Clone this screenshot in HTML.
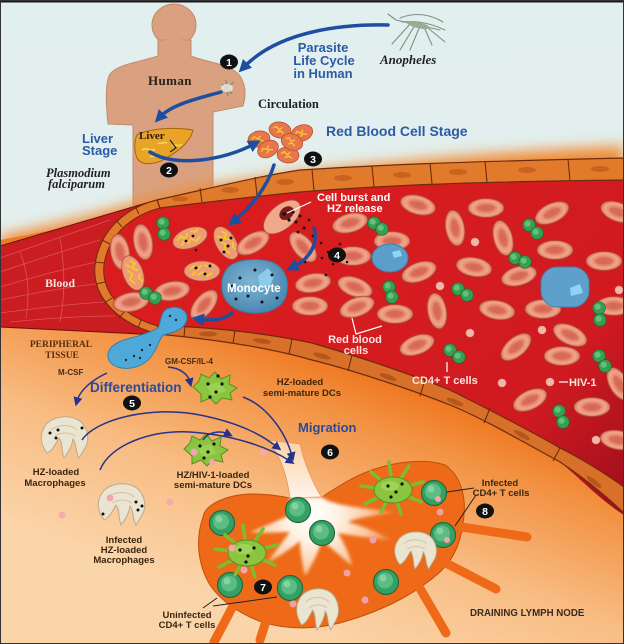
<!DOCTYPE html>
<html><head><meta charset="utf-8">
<style>
html,body{margin:0;padding:0;background:#fff}
svg{display:block}
text{font-family:"Liberation Sans",sans-serif;font-weight:bold}
.se{font-family:"Liberation Serif",serif}
</style></head><body>
<svg width="624" height="644" viewBox="0 0 624 644" xmlns="http://www.w3.org/2000/svg">
<defs>
<filter id="b8" x="-20%" y="-80%" width="140%" height="260%"><feGaussianBlur stdDeviation="7"/></filter>
<filter id="b2" x="-20%" y="-20%" width="140%" height="140%"><feGaussianBlur stdDeviation="1.5"/></filter>
<linearGradient id="sky" x1="0" y1="0" x2="0" y2="1">
<stop offset="0" stop-color="#e1efef"/><stop offset="1" stop-color="#e8f0ea"/></linearGradient>
<linearGradient id="tis" gradientUnits="userSpaceOnUse" x1="390" y1="360" x2="290" y2="630">
<stop offset="0" stop-color="#ed6c12"/><stop offset="0.22" stop-color="#f29040"/><stop offset="0.6" stop-color="#f8bd84"/><stop offset="1" stop-color="#fbd5aa"/></linearGradient>
<linearGradient id="lum" gradientUnits="userSpaceOnUse" x1="300" y1="220" x2="620" y2="500">
<stop offset="0" stop-color="#d91d1f"/><stop offset="0.7" stop-color="#cf1a20"/><stop offset="1" stop-color="#a30f1e"/></linearGradient>
<radialGradient id="rg"><stop offset="0" stop-color="#d86c58"/><stop offset="0.45" stop-color="#e4826a"/><stop offset="0.76" stop-color="#f2a68c"/><stop offset="1" stop-color="#d47860"/></radialGradient>
<radialGradient id="wc" gradientUnits="userSpaceOnUse" cx="312" cy="515" r="75"><stop offset="0" stop-color="#ffffff"/><stop offset="0.35" stop-color="#fff2e6"/><stop offset="0.75" stop-color="#fbc9a0"/><stop offset="1" stop-color="#f59a5a"/></radialGradient>
<linearGradient id="stalk" x1="0" y1="0" x2="0" y2="1"><stop offset="0" stop-color="#fbd2a8"/><stop offset="1" stop-color="#fff4ea"/></linearGradient>
<radialGradient id="mono" cx="0.45" cy="0.4" r="0.6"><stop offset="0" stop-color="#7fb6d4"/><stop offset="1" stop-color="#4b88b0"/></radialGradient>
<marker id="ah" viewBox="0 0 10 10" refX="4" refY="5" markerWidth="3.6" markerHeight="3.6" orient="auto"><path d="M0,0 L10,5 L0,10 Z" fill="#1d4e9f"/></marker>
<marker id="an" viewBox="0 0 10 10" refX="4" refY="5" markerWidth="6" markerHeight="6" orient="auto"><path d="M0,0 L10,5 L0,10 Z" fill="#25338a"/></marker>
<g id="r"><ellipse rx="18" ry="9.5" fill="url(#rg)" stroke="#b04a3a" stroke-width="0.8"/><ellipse rx="9" ry="3.5" fill="#d06250" opacity="0.55"/></g>
<g id="i"><ellipse rx="18" ry="10" fill="#ee9c76" stroke="#b04a3a" stroke-width="0.8"/><path d="M-12,-2 l4,-3 l3,4 l4,-4 M-4,4 l5,-3 l4,4 l5,-3 M3,-6 l4,2 l4,-2 M-10,4 l3,-3" stroke="#f2cf1c" stroke-width="1.7" fill="none" stroke-linecap="round"/></g>
<g id="c"><ellipse rx="11" ry="8" fill="#e8764c" stroke="#b24a2c" stroke-width="0.7"/><path d="M-7,-1 l3,-2 l3,3 l3,-3 M-3,3 l4,-2 l3,2" stroke="#f4cf2a" stroke-width="1.3" fill="none"/></g>
<g id="g"><circle r="6.3" fill="#35a052" stroke="#1d6b33" stroke-width="0.7"/><circle cx="-1.3" cy="-1.3" r="3" fill="#70c886" opacity="0.8"/></g>
<g id="h"><circle r="4" fill="#f2b7ab" stroke="#e49a8c" stroke-width="0.6"/></g>
<g id="t"><circle r="12.5" fill="#34a064" stroke="#24683c" stroke-width="1.2"/><circle cx="-1" cy="-1.5" r="8" fill="#5cbc84"/><circle cx="-3" cy="-4" r="3.5" fill="#9ad8b0" opacity="0.7"/></g>
<g id="d"><path d="M-21,-1 L-15,-7 L-13,-14 L-5,-10 L1,-16 L7,-9 L16,-13 L15,-4 L23,0 L16,5 L18,12 L8,10 L2,16 L-4,10 L-13,14 L-13,6 Z" fill="#8bc53f" stroke="#5a8f22" stroke-width="1"/><path d="M-8,-3 L6,-6 L12,3 L-2,8 Z" fill="#a2d65a" opacity="0.7"/></g>
<g id="D"><g stroke="#7cbd30" stroke-width="3.5" stroke-linecap="round"><line x1="0" y1="0" x2="-32" y2="-4"/><line x1="0" y1="0" x2="-22" y2="-18"/><line x1="0" y1="0" x2="-4" y2="-28"/><line x1="0" y1="0" x2="16" y2="-24"/><line x1="0" y1="0" x2="30" y2="-8"/><line x1="0" y1="0" x2="28" y2="12"/><line x1="0" y1="0" x2="8" y2="24"/><line x1="0" y1="0" x2="-12" y2="22"/><line x1="0" y1="0" x2="-28" y2="14"/></g><ellipse rx="19" ry="13" fill="#8bc53f" stroke="#5a8f22"/><ellipse cx="-3" cy="-4" rx="9" ry="5" fill="#a6d860" opacity="0.7"/></g>
<g id="m"><path d="M-21,-10 C-16,-22 6,-25 16,-16 C23,-9 25,2 20,10 L14,20 C10,13 12,6 8,1 C7,9 3,15 -1,20 C-4,12 -2,5 -6,0 C-10,7 -13,13 -18,15 C-25,6 -25,-4 -21,-10 Z" fill="#ebe4d0" stroke="#b8ab8e" stroke-width="1"/><path d="M-14,-8 C-6,-14 6,-14 12,-8 M-10,-2 C-4,-6 4,-6 10,-2" stroke="#cfc3a6" fill="none"/></g>
<g id="n"><ellipse rx="9" ry="7.5" fill="#111"/></g>
</defs>

<!-- sky -->
<rect x="0" y="0" width="624" height="644" fill="url(#sky)"/>

<!-- human -->
<g fill="#d9a17f" stroke="#c48a68" stroke-width="1">
<ellipse cx="174" cy="25" rx="22" ry="21"/>
<path d="M158,40 L158,56 C140,62 118,64 110,74 C105,82 106,105 108,124 L133,125 L133,205 L213,205 L213,112 L243,106 C246,96 246,85 240,76 C232,64 205,62 191,56 L191,40 Z"/>
</g>
<ellipse cx="174" cy="44" rx="14" ry="5" fill="#d9a17f"/>
<g stroke="#6f8470" stroke-width="1" fill="none"><path d="M218,94 L234,82 M222,84 L232,94 M226,80 L228,96"/></g>
<ellipse cx="227" cy="88" rx="6" ry="4" fill="#e8ecea" opacity="0.8"/>

<!-- liver -->
<path d="M137,135 C150,128 175,127 193,130 C191,140 181,150 166,158 C156,165 141,166 137,158 C134,150 134,141 137,135 Z" fill="#e9a326" stroke="#a8640e" stroke-width="1"/>
<path d="M142,150 c5,-4 8,3 13,-1 M150,157 c4,-3 7,2 12,-2 M172,146 c4,-3 6,2 10,-2 M158,143 c3,2 6,-2 9,0" stroke="#f8dc60" stroke-width="1.5" fill="none"/>
<path d="M170,140 L176,148 L170,152" stroke="#222" stroke-width="1.2" fill="none"/>

<!-- mosquito Anopheles -->
<g stroke="#7f917c" stroke-width="1.1" fill="none" stroke-linecap="round">
<path d="M396,20 L440,30"/><path d="M400,18 C415,12 430,14 443,22"/><path d="M402,22 C418,20 432,24 445,30"/>
<path d="M410,24 L392,44 M415,25 L400,50 M420,26 L410,50 M424,27 L432,45 M428,28 L445,42 M396,20 L388,14"/>
</g>
<ellipse cx="418" cy="25" rx="12" ry="3" fill="#9aab96" transform="rotate(14 418 25)"/>

<!-- orange glow above vessel -->
<path d="M0,236 C80,220 140,200 200,187 C300,170 450,154 624,146 L624,215 L0,290 Z" fill="#f08a35" filter="url(#b8)"/>
<path d="M0,240 C80,226 140,208 200,196 C300,180 450,170 624,166 L624,230 L0,290 Z" fill="#ee7a22"/>

<!-- circulation cluster -->
<use href="#c" transform="translate(259,139) rotate(-10)"/>
<use href="#c" transform="translate(280,130) rotate(10)"/>
<use href="#c" transform="translate(302,133) rotate(-20)"/>
<use href="#c" transform="translate(288,155) rotate(5)"/>
<use href="#c" transform="translate(268,149) rotate(-30)"/>
<use href="#c" transform="translate(292,142) rotate(20)"/>

<!-- tissue -->
<path d="M0,324 L157,334 C200,338 260,345 312,360 C360,372 420,393 450,405 C480,417 520,440 560,462 C590,482 610,500 624,513 L624,644 L0,644 Z" fill="url(#tis)"/>

<!-- left tube outer surface -->
<path d="M0,246 L160,199 L160,335 L0,327 Z" fill="#c91d22" stroke="#6a1010" stroke-width="1"/>
<g stroke="#e86a6a" stroke-width="0.8" fill="none" opacity="0.7">
<path d="M0,258 C30,248 70,234 110,220"/><path d="M0,272 C30,262 65,250 100,240"/><path d="M0,287 C30,278 60,270 96,262"/>
<path d="M0,300 C30,294 60,288 96,284"/><path d="M0,313 C40,308 70,304 104,302"/><path d="M10,322 C50,318 80,316 115,316"/>
<path d="M20,252 C28,272 30,292 26,318"/><path d="M60,238 C64,262 66,292 60,322"/>
</g>

<!-- vessel lumen -->
<path d="M157,200 C220,186 260,176 300,170 C380,165 450,162 624,158 L624,515 C600,500 580,478 560,462 C520,440 480,417 450,405 C420,393 360,372 312,360 C260,345 200,338 157,334 C115,322 92,295 95,265 C100,230 125,208 157,200 Z" fill="url(#lum)"/>

<!-- ring endothelium (cut end) -->
<path d="M157,200 C125,208 100,230 95,265 C92,295 115,322 157,334 L158,326 C122,316 101,292 104,265 C108,236 130,216 160,208 Z" fill="#e27a2c" stroke="#6d2c0c" stroke-width="1"/>
<g stroke="#6d2c0c" stroke-width="1"><line x1="135" y1="206" x2="139" y2="214"/><line x1="116" y1="220" x2="122" y2="227"/><line x1="102" y1="240" x2="110" y2="244"/><line x1="95" y1="262" x2="104" y2="263"/><line x1="96" y1="284" x2="105" y2="282"/><line x1="104" y1="303" x2="112" y2="298"/><line x1="119" y1="318" x2="125" y2="311"/><line x1="138" y1="328" x2="141" y2="320"/></g>

<!-- top wall endothelium -->
<path d="M157,200 C220,186 260,176 300,170 C380,165 450,162 624,158 L624,180 C450,182 380,186 300,192 C250,197 200,203 160,208 Z" fill="#e27a2c" stroke="#6d2c0c" stroke-width="1.2"/>
<g stroke="#6d2c0c" stroke-width="1.1"><line x1="200" y1="188" x2="202" y2="202"/><line x1="255" y1="177" x2="257" y2="195"/><line x1="312" y1="169" x2="314" y2="191"/><line x1="372" y1="166" x2="374" y2="187"/><line x1="430" y1="163" x2="432" y2="184"/><line x1="485" y1="161" x2="487" y2="182"/><line x1="568" y1="159" x2="570" y2="181"/></g>
<g fill="#c8621e"><ellipse cx="180" cy="199" rx="8" ry="2.5"/><ellipse cx="230" cy="190" rx="9" ry="3"/><ellipse cx="285" cy="182" rx="9" ry="3"/><ellipse cx="343" cy="178" rx="9" ry="3"/><ellipse cx="402" cy="175" rx="9" ry="3"/><ellipse cx="458" cy="172" rx="9" ry="3"/><ellipse cx="527" cy="170" rx="9" ry="3"/><ellipse cx="600" cy="169" rx="9" ry="3"/></g>

<!-- lower wall endothelium -->
<path d="M157,334 C200,338 260,345 312,360 C360,372 420,393 450,405 C480,417 520,440 560,462 C590,482 610,500 624,513 L624,487 C600,470 580,458 560,448 C520,425 480,405 450,390 C420,378 370,360 312,343 C260,332 200,326 158,326 Z" fill="#d9702a" stroke="#6d2c0c" stroke-width="1.2"/>
<g stroke="#6d2c0c" stroke-width="1.1"><line x1="185" y1="327" x2="184" y2="337"/><line x1="235" y1="331" x2="233" y2="343"/><line x1="292" y1="339" x2="289" y2="354"/><line x1="352" y1="355" x2="348" y2="371"/><line x1="425" y1="380" x2="420" y2="396"/><line x1="490" y1="408" x2="484" y2="423"/><line x1="560" y1="448" x2="553" y2="461"/></g>
<g fill="#b5561c"><ellipse cx="208" cy="334" rx="9" ry="2.5"/><ellipse cx="262" cy="341" rx="9" ry="2.5" transform="rotate(8 262 341)"/><ellipse cx="322" cy="356" rx="9" ry="2.5" transform="rotate(15 322 356)"/><ellipse cx="388" cy="377" rx="9" ry="2.5" transform="rotate(20 388 377)"/><ellipse cx="455" cy="402" rx="9" ry="2.5" transform="rotate(22 455 402)"/><ellipse cx="522" cy="435" rx="9" ry="2.5" transform="rotate(30 522 435)"/><ellipse cx="594" cy="482" rx="9" ry="2.5" transform="rotate(38 594 482)"/></g>

<!-- RBCs -->
<use href="#r" transform="translate(120,252) rotate(80)"/>
<use href="#r" transform="translate(143,242) rotate(80)"/>
<use href="#i" transform="translate(190,238) rotate(-20)"/>
<use href="#i" transform="translate(226,243) rotate(60)"/>
<use href="#r" transform="translate(253,243) rotate(-30)"/>
<use href="#r" transform="translate(303,247) rotate(50)"/>
<use href="#r" transform="translate(350,223) rotate(-15)"/>
<use href="#r" transform="translate(353,256) rotate(0)"/>
<use href="#r" transform="translate(392,241) rotate(0)"/>
<use href="#r" transform="translate(418,205) rotate(15)"/>
<use href="#r" transform="translate(419,272) rotate(-20)"/>
<use href="#i" transform="translate(133,273) rotate(70)"/>
<use href="#i" transform="translate(202,271) rotate(0)"/>
<use href="#r" transform="translate(172,291) rotate(-10)"/>
<use href="#r" transform="translate(131,302) rotate(-10)"/>
<use href="#r" transform="translate(204,305) rotate(-50)"/>
<use href="#r" transform="translate(313,283) rotate(-10)"/>
<use href="#r" transform="translate(355,287) rotate(20)"/>
<use href="#r" transform="translate(357,307) rotate(-20)"/>
<use href="#r" transform="translate(310,306) rotate(0)"/>
<use href="#r" transform="translate(395,314) rotate(0)"/>
<use href="#r" transform="translate(437,311) rotate(80)"/>
<use href="#r" transform="translate(417,345) rotate(-20)"/>
<use href="#r" transform="translate(455,228) rotate(80)"/>
<use href="#r" transform="translate(486,208) rotate(0)"/>
<use href="#r" transform="translate(474,267) rotate(10)"/>
<use href="#r" transform="translate(519,276) rotate(-15)"/>
<use href="#r" transform="translate(552,213) rotate(-25)"/>
<use href="#r" transform="translate(503,238) rotate(75)"/>
<use href="#r" transform="translate(555,250) rotate(0)"/>
<use href="#r" transform="translate(604,261) rotate(0)"/>
<use href="#r" transform="translate(618,212) rotate(20)"/>
<use href="#r" transform="translate(497,310) rotate(10)"/>
<use href="#r" transform="translate(543,309) rotate(0)"/>
<use href="#r" transform="translate(570,335) rotate(25)"/>
<use href="#r" transform="translate(614,306) rotate(0)"/>
<use href="#r" transform="translate(516,347) rotate(-40)"/>
<use href="#r" transform="translate(562,356) rotate(0)"/>
<use href="#r" transform="translate(530,400) rotate(-25)"/>
<use href="#r" transform="translate(592,407) rotate(0)"/>
<use href="#r" transform="translate(619,384) rotate(60)"/>
<use href="#r" transform="translate(618,440) rotate(10)"/>
<!-- burst cell -->
<g transform="translate(282,217) rotate(-40)"><ellipse rx="22" ry="12" fill="#f0a88a" stroke="#b5503f" stroke-width="0.8"/><ellipse cx="6" cy="0" rx="8" ry="6" fill="#7a1a1a"/></g>

<!-- hemozoin dots -->
<g fill="#111">
<circle cx="284" cy="214" r="1.6"/><circle cx="289" cy="220" r="1.6"/><circle cx="293" cy="212" r="1.6"/><circle cx="296" cy="222" r="1.6"/><circle cx="300" cy="216" r="1.5"/><circle cx="304" cy="228" r="1.5"/><circle cx="309" cy="220" r="1.4"/><circle cx="313" cy="236" r="1.4"/><circle cx="298" cy="232" r="1.4"/><circle cx="321" cy="243" r="1.3"/><circle cx="328" cy="252" r="1.3"/><circle cx="333" cy="264" r="1.3"/><circle cx="322" cy="258" r="1.3"/><circle cx="340" cy="244" r="1.3"/><circle cx="347" cy="262" r="1.3"/><circle cx="305" cy="262" r="1.3"/><circle cx="326" cy="275" r="1.3"/>
<circle cx="221" cy="240" r="1.5"/><circle cx="228" cy="246" r="1.5"/><circle cx="231" cy="238" r="1.5"/><circle cx="224" cy="252" r="1.5"/>
<circle cx="196" cy="268" r="1.5"/><circle cx="205" cy="274" r="1.5"/><circle cx="210" cy="266" r="1.5"/><circle cx="196" cy="250" r="1.3"/>
<circle cx="193" cy="236" r="1.4"/><circle cx="186" cy="241" r="1.4"/>
</g>

<!-- green T-cell pairs -->
<use href="#g" x="163" y="223"/><use href="#g" x="164" y="234"/>
<use href="#g" x="146" y="293"/><use href="#g" x="155" y="298"/>
<use href="#g" x="374" y="223"/><use href="#g" x="382" y="229"/>
<use href="#g" x="529" y="225"/><use href="#g" x="537" y="233"/>
<use href="#g" x="515" y="258"/><use href="#g" x="525" y="262"/>
<use href="#g" x="389" y="287"/><use href="#g" x="392" y="297"/>
<use href="#g" x="458" y="289"/><use href="#g" x="467" y="295"/>
<use href="#g" x="599" y="308"/><use href="#g" x="600" y="320"/>
<use href="#g" x="450" y="350"/><use href="#g" x="459" y="357"/>
<use href="#g" x="599" y="356"/><use href="#g" x="605" y="366"/>
<use href="#g" x="559" y="411"/><use href="#g" x="563" y="422"/>

<!-- HIV dots -->
<use href="#h" x="475" y="242"/><use href="#h" x="440" y="286"/><use href="#h" x="470" y="333"/><use href="#h" x="542" y="330"/><use href="#h" x="502" y="383"/><use href="#h" x="550" y="382"/><use href="#h" x="596" y="440"/><use href="#h" x="619" y="290"/>

<!-- blue cells -->
<ellipse cx="390" cy="258" rx="18" ry="14" fill="#5b9ecb" stroke="#3f7fae"/>
<path d="M392,252 l8,-2 l2,6 l-8,2 z" fill="#8fd2f4"/>
<rect x="541" y="267" width="48" height="40" rx="16" fill="#5e9fcc" stroke="#4080b0"/>
<path d="M570,288 l10,-4 l3,9 l-12,3 z" fill="#8fd2f4"/>

<!-- monocyte -->
<path d="M226,270 C234,258 258,258 272,262 C286,268 290,282 286,296 C282,308 268,314 252,313 C236,312 224,304 222,290 C221,282 222,276 226,270 Z" fill="url(#mono)" stroke="#3c7aa4" stroke-width="1"/>
<path d="M258,276 l10,-8 l6,8 l-4,10 l-10,2 z" fill="#8ccbea"/>
<g fill="#111"><circle cx="240" cy="278" r="1.5"/><circle cx="248" cy="296" r="1.5"/><circle cx="262" cy="302" r="1.5"/><circle cx="272" cy="275" r="1.5"/><circle cx="236" cy="299" r="1.5"/><circle cx="255" cy="270" r="1.5"/><circle cx="277" cy="298" r="1.5"/><circle cx="232" cy="286" r="1.3"/></g>

<!-- diapedesis cell -->
<path d="M170,308 C180,305 190,312 186,322 C183,330 172,333 163,335 C158,341 158,348 150,358 C140,370 118,372 110,362 C104,352 112,344 124,340 C138,336 150,333 158,328 C162,320 160,310 170,308 Z" fill="#4fa9d8" stroke="#2f80b0" stroke-width="1"/>
<g fill="#1a2a3a"><circle cx="170" cy="316" r="1.2"/><circle cx="176" cy="320" r="1.2"/><circle cx="150" cy="345" r="1.2"/><circle cx="142" cy="350" r="1.2"/><circle cx="134" cy="356" r="1.2"/><circle cx="126" cy="360" r="1.2"/><circle cx="140" cy="358" r="1.2"/></g>

<!-- vessel arrows -->
<g stroke="#1d4e9f" stroke-width="3.5" fill="none" marker-end="url(#ah)" stroke-linecap="round">
<path d="M388,25 C345,24 280,30 244,67"/>
<path d="M221,92 C200,98 172,104 160,117"/>
<path d="M150,152 C175,168 225,160 254,144"/>
<path d="M274,165 C267,188 250,208 234,221"/>
<path d="M314,228 C319,245 308,260 293,267"/>
<path d="M232,313 C224,320 212,321 199,319"/>
</g>

<!-- migration stalk in tissue -->
<path d="M268,440 C280,455 287,475 290,498 L322,498 C312,482 304,462 300,444 Z" fill="url(#stalk)" stroke="#e8955a" stroke-width="0.8"/>

<!-- lymph node -->
<g fill="#ee6a18" stroke="#c04e0c" stroke-width="1">
<path d="M203,517 C205,505 225,495 250,494 C268,494 280,496 290,498 L322,497 C340,485 355,476 372,470 C395,462 425,458 445,465 C460,475 466,495 464,515 C462,540 455,558 440,572 C420,590 390,608 350,620 C320,630 290,630 265,623 C240,615 220,600 210,585 C198,565 195,540 203,517 Z"/>
</g>
<g stroke="#ee6a18" stroke-width="9" stroke-linecap="round">
<line x1="455" y1="526" x2="527" y2="537"/><line x1="440" y1="560" x2="496" y2="589"/><line x1="418" y1="585" x2="446" y2="633"/><line x1="268" y1="615" x2="260" y2="640"/><line x1="232" y1="608" x2="214" y2="642"/>
</g>
<!-- white center with fingers -->
<path d="M290,497 L322,497 C330,505 360,508 395,512 C370,516 356,518 348,522 C368,528 382,534 390,540 C370,538 350,535 338,533 C345,545 350,555 352,566 C340,556 330,546 322,541 C318,553 312,565 305,576 C302,562 300,550 300,541 C290,549 280,556 268,562 C276,550 284,540 290,532 C275,532 262,534 250,532 C265,526 280,520 292,514 C291,508 290,502 290,497 Z" fill="url(#wc)" filter="url(#b2)"/>

<!-- node contents -->
<use href="#t" x="222" y="523"/><use href="#t" x="298" y="510"/><use href="#t" x="322" y="533"/><use href="#t" x="230" y="585"/><use href="#t" x="290" y="588"/><use href="#t" x="386" y="582"/><use href="#t" x="443" y="535"/><use href="#t" x="434" y="493"/>
<circle cx="438" cy="499" r="3" fill="#f2a7b0"/><circle cx="447" cy="540" r="3" fill="#f2a7b0"/>
<use href="#D" transform="translate(247,553)"/>
<use href="#D" transform="translate(393,490)"/>
<g fill="#111"><circle cx="240" cy="550" r="1.6"/><circle cx="248" cy="556" r="1.6"/><circle cx="254" cy="548" r="1.6"/><circle cx="246" cy="562" r="1.6"/><circle cx="388" cy="486" r="1.6"/><circle cx="396" cy="492" r="1.6"/><circle cx="402" cy="484" r="1.6"/><circle cx="391" cy="497" r="1.6"/></g>
<circle cx="232" cy="548" r="3.5" fill="#f2a7b0"/><circle cx="244" cy="570" r="3.5" fill="#f2a7b0"/>
<use href="#m" transform="translate(416,551) scale(0.9)"/>
<use href="#m" transform="translate(318,610) scale(0.9,1)"/>
<g fill="#f0a0a8"><circle cx="440" cy="512" r="3.5"/><circle cx="373" cy="540" r="3.5"/><circle cx="347" cy="573" r="3.5"/><circle cx="365" cy="600" r="3.5"/><circle cx="293" cy="604" r="3.5"/></g>

<!-- tissue cells -->
<use href="#d" transform="translate(214,388)"/>
<use href="#d" transform="translate(205,450)"/>
<g fill="#111"><circle cx="208" cy="384" r="1.6"/><circle cx="216" cy="392" r="1.6"/><circle cx="222" cy="384" r="1.6"/><circle cx="210" cy="397" r="1.6"/><circle cx="218" cy="376" r="1.6"/>
<circle cx="200" cy="446" r="1.6"/><circle cx="208" cy="452" r="1.6"/><circle cx="214" cy="444" r="1.6"/><circle cx="204" cy="458" r="1.6"/></g>
<circle cx="194" cy="452" r="3.5" fill="#f2a7b0"/><circle cx="212" cy="462" r="3" fill="#f2a7b0"/>
<use href="#m" transform="translate(65,438)"/>
<use href="#m" transform="translate(122,505)"/>
<g fill="#111"><circle cx="50" cy="433" r="1.5"/><circle cx="56" cy="438" r="1.5"/><circle cx="58" cy="430" r="1.5"/><circle cx="82" cy="428" r="1.5"/><circle cx="136" cy="502" r="1.5"/><circle cx="142" cy="506" r="1.5"/><circle cx="138" cy="510" r="1.5"/><circle cx="103" cy="514" r="1.5"/></g>
<circle cx="110" cy="498" r="3.5" fill="#f2a7b0"/>
<g fill="#f3aab0"><circle cx="62" cy="515" r="3.5"/><circle cx="170" cy="502" r="3.5"/><circle cx="263" cy="453" r="3.5"/></g>

<!-- tissue arrows -->
<g stroke="#25338a" stroke-width="1.5" fill="none" marker-end="url(#an)">
<path d="M107,373 C92,380 80,390 77,401"/>
<path d="M168,367 C180,368 188,374 190,382"/>
<path d="M243,397 C265,405 285,430 292,456"/>
<path d="M82,440 C95,420 150,405 200,415 C240,423 262,435 277,447"/>
<path d="M100,470 C110,445 150,430 190,432 C235,435 270,448 290,461"/>
<path d="M203,440 C208,432 220,430 228,434"/>
</g>

<!-- label pointer lines -->
<g stroke="#ffffff" stroke-width="1.2" fill="none">
<path d="M311,202 L287,213"/><path d="M352,318 L356,334 L382,326"/><path d="M447,362 L447,372"/><path d="M559,382 L568,382"/>
</g>
<g stroke="#222" stroke-width="1" fill="none">
<path d="M474,488 L447,492"/><path d="M476,495 L455,526"/><path d="M203,608 L217,598"/><path d="M213,606 L277,597"/>
</g>

<!-- numbers -->
<g>
<use href="#n" x="229" y="62"/><use href="#n" x="169" y="170"/><use href="#n" x="313" y="159"/><use href="#n" x="337" y="255"/><use href="#n" x="132" y="403"/><use href="#n" x="330" y="452"/><use href="#n" x="263" y="587"/><use href="#n" x="485" y="511"/>
</g>
<g fill="#fff" font-size="10.5" text-anchor="middle">
<text x="229" y="66">1</text><text x="169" y="174">2</text><text x="313" y="163">3</text><text x="337" y="259">4</text><text x="132" y="407">5</text><text x="330" y="456">6</text><text x="263" y="591">7</text><text x="485" y="515">8</text>
</g>

<!-- text labels -->
<g fill="#2b5aa6" font-size="13" text-anchor="middle">
<text x="323" y="52">Parasite</text><text x="324" y="65">Life Cycle</text><text x="323" y="78">in Human</text>
</g>
<text x="326" y="136" fill="#2b5aa6" font-size="14">Red Blood Cell Stage</text>
<text x="82" y="143" fill="#2b5aa6" font-size="13">Liver</text>
<text x="82" y="155" fill="#2b5aa6" font-size="13">Stage</text>
<text class="se" x="380" y="64" fill="#222" font-size="13" font-style="italic">Anopheles</text>
<text class="se" x="148" y="85" fill="#2a2018" font-size="13" letter-spacing="0.4">Human</text>
<text class="se" x="258" y="108" fill="#222" font-size="12.5">Circulation</text>
<text class="se" x="139" y="139" fill="#2a1a08" font-size="11">Liver</text>
<text class="se" x="46" y="177" fill="#222" font-size="12.5" font-style="italic">Plasmodium</text>
<text class="se" x="48" y="188" fill="#222" font-size="12.5" font-style="italic">falciparum</text>
<text x="317" y="201" fill="#fff" font-size="11">Cell burst and</text>
<text x="327" y="212" fill="#fff" font-size="11">HZ  release</text>
<text class="se" x="45" y="287" fill="#fbe0d8" font-size="12">Blood</text>
<text x="227" y="292" fill="#fff" font-size="11.5">Monocyte</text>
<text x="355" y="343" fill="#fde4de" font-size="11" text-anchor="middle">Red blood</text>
<text x="356" y="354" fill="#fde4de" font-size="11" text-anchor="middle">cells</text>
<text x="412" y="384" fill="#fde4de" font-size="11">CD4+ T cells</text>
<text x="569" y="386" fill="#fde4de" font-size="11">HIV-1</text>
<text class="se" x="61" y="347" fill="#5a2e10" font-size="9.5" text-anchor="middle">PERIPHERAL</text>
<text class="se" x="62" y="358" fill="#5a2e10" font-size="9.5" text-anchor="middle">TISSUE</text>
<text x="58" y="375" fill="#4a2a10" font-size="8" font-weight="normal">M-CSF</text>
<text x="165" y="364" fill="#4a2a10" font-size="8" font-weight="normal">GM-CSF/IL-4</text>
<text x="90" y="392" fill="#2c4a9c" font-size="13.5">Differentiation</text>
<text x="300" y="385" fill="#3a2610" font-size="9.5" text-anchor="middle">HZ-loaded</text>
<text x="302" y="396" fill="#3a2610" font-size="9.5" text-anchor="middle">semi-mature DCs</text>
<text x="298" y="432" fill="#2c4a9c" font-size="13">Migration</text>
<text x="56" y="475" fill="#3a2610" font-size="9.5" text-anchor="middle">HZ-loaded</text>
<text x="55" y="486" fill="#3a2610" font-size="9.5" text-anchor="middle">Macrophages</text>
<text x="213" y="478" fill="#3a2610" font-size="9.5" text-anchor="middle">HZ/HIV-1-loaded</text>
<text x="213" y="488" fill="#3a2610" font-size="9.5" text-anchor="middle">semi-mature DCs</text>
<text x="124" y="543" fill="#3a2610" font-size="9.5" text-anchor="middle">Infected</text>
<text x="124" y="553" fill="#3a2610" font-size="9.5" text-anchor="middle">HZ-loaded</text>
<text x="124" y="563" fill="#3a2610" font-size="9.5" text-anchor="middle">Macrophages</text>
<text x="187" y="618" fill="#3a2610" font-size="9.5" text-anchor="middle">Uninfected</text>
<text x="187" y="628" fill="#3a2610" font-size="9.5" text-anchor="middle">CD4+ T cells</text>
<text x="500" y="486" fill="#3a2610" font-size="9.5" text-anchor="middle">Infected</text>
<text x="501" y="496" fill="#3a2610" font-size="9.5" text-anchor="middle">CD4+ T cells</text>
<text x="470" y="616" fill="#3a2a20" font-size="9.7">DRAINING LYMPH NODE</text>

<!-- frame -->
<rect x="0" y="0" width="624" height="2.5" fill="#1a1a1a"/>
<rect x="0.5" y="0.5" width="623" height="643" fill="none" stroke="#333" stroke-width="1"/>
</svg>
</body></html>
